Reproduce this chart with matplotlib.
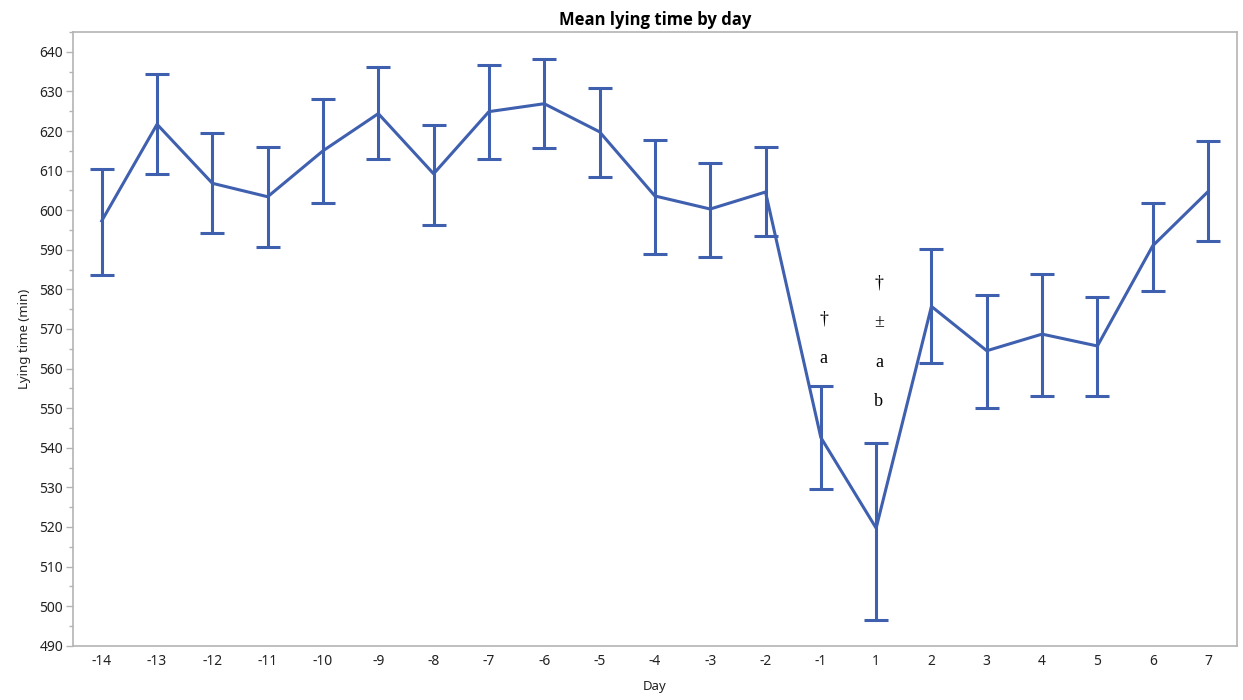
import numpy as np
import matplotlib
matplotlib.use("Agg")
import matplotlib.pyplot as plt
from matplotlib.ticker import MultipleLocator

days = ["-14", "-13", "-12", "-11", "-10", "-9", "-8", "-7", "-6", "-5", "-4",
        "-3", "-2", "-1", "1", "2", "3", "4", "5", "6", "7"]
mean_lying = [597.3, 621.7, 606.8, 603.4, 615.0, 624.4, 609.2, 624.9, 626.9, 619.8, 603.6,
              600.3, 604.6, 542.6, 519.7, 575.7, 564.5, 568.7, 565.7, 591.0, 604.7]
upper_ci = [610.4, 634.3, 619.6, 616.0, 628.2, 636.3, 621.6, 636.8, 638.3, 630.8, 617.8,
            612.0, 615.9, 555.6, 541.3, 590.2, 578.6, 584.0, 578.1, 601.8, 617.5]
lower_ci = [583.6, 609.2, 594.2, 590.7, 601.8, 612.9, 596.2, 613.0, 615.7, 608.4, 589.0,
            588.2, 593.4, 529.7, 496.5, 561.4, 550.1, 553.0, 553.0, 579.6, 592.2]

# significance marks stacked above days -1 and 1
marks = {"-1": ["†", "a"], "1": ["†", "±", "a", "b"]}

plt.rcParams['font.family'] = ['Noto Sans', 'DejaVu Sans']

line_col = "#3F5FAF"
axis_col = "#B4B4B4"

x = np.arange(len(days))
mean_lying = np.array(mean_lying)
yerr = np.array([mean_lying - np.array(lower_ci), np.array(upper_ci) - mean_lying])

fig = plt.figure(figsize=(12.43, 7.0), dpi=100)
ax = fig.add_axes([0.0587, 0.0776, 0.9363, 0.8766])

ax.errorbar(x, mean_lying, yerr=yerr, color=line_col, lw=2.2, elinewidth=2.2,
            capsize=8.6, capthick=2.2)

# text marks, spaced evenly from the top down
tpos = {"-1": 572.6, "1": 581.6}
for day, labs in marks.items():
    i = days.index(day)
    for k, lab in enumerate(labs):
        ax.text(i + 0.05, tpos[day] - k * 10.0, lab, ha="center", va="center",
                fontsize=13, family=["Liberation Serif", "DejaVu Serif"], color="black")

ax.set_xlim(-0.52, 20.52)
ax.set_ylim(490, 645)
ax.set_xticks(x)
ax.set_xticklabels(days)
ax.yaxis.set_major_locator(MultipleLocator(10))
ax.yaxis.set_minor_locator(MultipleLocator(5))

for s in ax.spines.values():
    s.set_color(axis_col)
    s.set_linewidth(1.2)

ax.tick_params(axis="x", length=0, pad=6, labelsize=10, labelcolor="#222222")
ax.tick_params(axis="y", which="major", length=5, width=1, color=axis_col,
               labelsize=10, labelcolor="#222222", pad=2)
ax.tick_params(axis="y", which="minor", length=3, width=1, color=axis_col)

ax.set_xlabel("Day", fontsize=9.5, color="#222222", labelpad=8)
ax.set_ylabel("Lying time (min)", fontsize=9.5, color="#222222", labelpad=6)
ax.set_title("Mean lying time by day", fontsize=12, fontweight="bold",
             family=["Open Sans", "DejaVu Sans"], pad=5)

fig.savefig("out.png", dpi=100)
